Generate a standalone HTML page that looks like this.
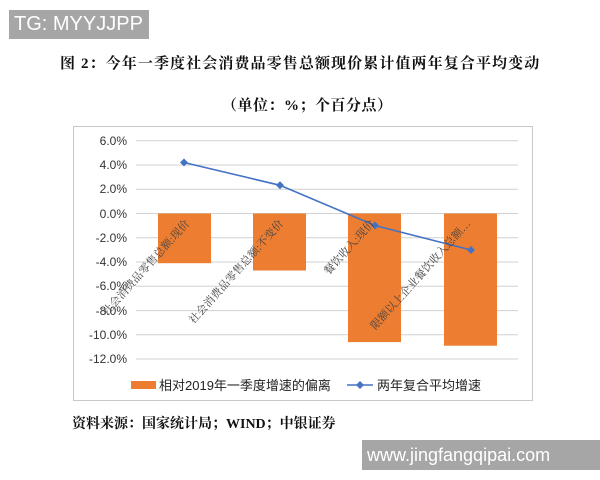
<!DOCTYPE html>
<html><head><meta charset="utf-8"><style>
body{margin:0;width:600px;height:480px;background:#fff;position:relative;overflow:hidden;font-family:"Liberation Serif","Noto Serif CJK SC",serif;}
.abs{position:absolute;white-space:nowrap}
</style></head><body>
<div class="abs" style="left:9px;top:10px;width:140px;height:29px;background:#a6a6a6;color:#fff;font:20px 'Liberation Sans',sans-serif;line-height:29px;padding-left:5px;box-sizing:border-box">TG: MYYJJPP</div>
<div class="abs" style="left:60px;top:52px;font-size:15px;font-weight:bold;color:#111;letter-spacing:1.1px">图 2：今年一季度社会消费品零售总额现价累计值两年复合平均变动</div>
<div class="abs" style="left:222px;top:94px;font-size:15px;font-weight:bold;color:#111;letter-spacing:0.5px">（单位：%；个百分点）</div>
<svg class="abs" style="left:0;top:0" width="600" height="480" font-family="'Liberation Sans','Noto Sans CJK SC',sans-serif">
<rect x="73.5" y="126.5" width="459" height="274" fill="#fff" stroke="#c8c8c8"/>
<g stroke="#d0d0d0" stroke-width="1">
<line x1="136" x2="518" y1="140.7" y2="140.7"/><line x1="136" x2="518" y1="165" y2="165"/><line x1="136" x2="518" y1="189.2" y2="189.2"/><line x1="136" x2="518" y1="213.5" y2="213.5"/><line x1="136" x2="518" y1="237.8" y2="237.8"/><line x1="136" x2="518" y1="262" y2="262"/><line x1="136" x2="518" y1="286.3" y2="286.3"/><line x1="136" x2="518" y1="310.6" y2="310.6"/><line x1="136" x2="518" y1="334.8" y2="334.8"/><line x1="136" x2="518" y1="359" y2="359"/>
</g>
<g font-size="12" fill="#333" text-anchor="end">
<text x="127" y="145">6.0%</text><text x="127" y="169">4.0%</text><text x="127" y="193">2.0%</text><text x="127" y="218">0.0%</text><text x="127" y="242">-2.0%</text><text x="127" y="266">-4.0%</text><text x="127" y="290">-6.0%</text><text x="127" y="315">-8.0%</text><text x="127" y="339">-10.0%</text><text x="127" y="363">-12.0%</text>
</g>
<g fill="#ed7d31">
<rect x="158" y="213.5" width="53" height="49.7"/>
<rect x="253" y="213.5" width="53" height="57"/>
<rect x="348" y="213.5" width="53" height="128.6"/>
<rect x="444" y="213.5" width="53" height="132.2"/>
</g>
<polyline points="184,162.5 280,185.3 375,225.5 471,250" fill="none" stroke="#4472c4" stroke-width="1.6"/>
<g fill="#4472c4">
<path d="M184 158.5l4 4-4 4-4-4z"/><path d="M280 181.3l4 4-4 4-4-4z"/><path d="M375 221.5l4 4-4 4-4-4z"/><path d="M471 246l4 4-4 4-4-4z"/>
</g>
<g font-size="11" fill="#444" font-family="'Liberation Serif','Noto Serif CJK SC',serif">
<text transform="translate(190,224) rotate(-48)" text-anchor="end">社会消费品零售总额:现价</text>
<text transform="translate(284,224) rotate(-48)" text-anchor="end">社会消费品零售总额:不变价</text>
<text transform="translate(375,224) rotate(-48)" text-anchor="end">餐饮收入:现价</text>
<text transform="translate(471,224) rotate(-48)" text-anchor="end">限额以上企业餐饮收入总额…</text>
</g>
<rect x="131" y="381" width="25" height="8" fill="#ed7d31"/>
<text x="159" y="390" font-size="13" fill="#222">相对2019年一季度增速的偏离</text>
<line x1="347" x2="373" y1="385" y2="385" stroke="#4472c4" stroke-width="1.6"/>
<path d="M360 381l4 4-4 4-4-4z" fill="#4472c4"/>
<text x="377" y="390" font-size="13" fill="#222">两年复合平均增速</text>
</svg>
<div class="abs" style="left:72px;top:413px;font-size:14px;font-weight:bold;color:#111">资料来源：国家统计局；WIND；中银证券</div>
<div class="abs" style="left:362px;top:440px;width:238px;height:30px;background:#a6a6a6;color:#fff;font:18px 'Liberation Sans',sans-serif;line-height:30px;padding-left:5px;box-sizing:border-box">www.jingfangqipai.com</div>
</body></html>
